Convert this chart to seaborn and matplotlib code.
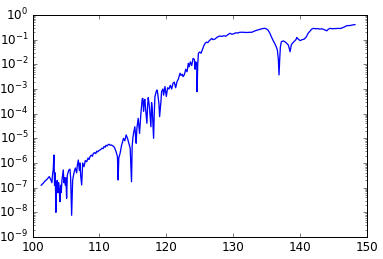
import matplotlib
matplotlib.use("Agg")
import matplotlib.pyplot as plt
import seaborn as sns
import numpy as np
import pandas as pd

x_vals = [101.3, 101.6, 101.9, 102.1, 102.3, 102.5, 102.7, 102.9, 103.0, 103.1, 103.2, 103.3, 103.4, 103.5,
          103.6, 103.7, 103.8, 103.9, 104.0, 104.1, 104.2, 104.3, 104.4, 104.5, 104.6, 104.7, 104.8, 104.9,
          105.0, 105.1, 105.2, 105.4, 105.6, 105.7, 105.85, 106.0, 106.2, 106.4, 106.6, 106.7, 106.85, 107.0,
          107.1, 107.2, 107.35, 107.5, 107.7, 107.9, 108.1, 108.3, 108.45, 108.6, 108.8, 108.95, 109.1, 109.3,
          109.45, 109.6, 109.75, 109.9, 110.1, 110.25, 110.4, 110.55, 110.7, 110.85, 111.0, 111.15, 111.3,
          111.45, 111.6, 111.8, 111.95, 112.1, 112.3, 112.5, 112.7, 112.8, 112.9, 113.1,
          113.3, 113.5, 113.6, 113.8, 114.0, 114.2, 114.4, 114.6, 114.8, 114.9, 115.0, 115.1, 115.3, 115.4,
          115.5, 115.6, 115.8, 115.9, 116.0, 116.2, 116.4, 116.5, 116.6, 116.7, 116.8, 116.9, 117.1, 117.2,
          117.3, 117.4, 117.5, 117.7, 117.8, 117.9, 118.1, 118.2, 118.3, 118.5, 118.6, 118.7, 118.9, 119.0,
          119.2, 119.3, 119.5, 119.6, 119.8, 120.0, 120.2, 120.4, 120.6, 120.8, 121.0, 121.2, 121.4, 121.6,
          121.8, 122.05, 122.2, 122.4, 122.5, 122.7, 122.9, 123.1, 123.3, 123.4, 123.6, 123.8, 124.0, 124.2,
          124.3, 124.4, 124.55, 124.6, 124.7, 124.8, 125.0, 125.2, 125.4, 125.6, 125.8, 126.0, 126.2, 126.4,
          126.6, 126.8, 127.0, 127.3, 127.6, 128.0, 128.3, 128.6, 128.9, 129.2, 129.5, 129.8, 130.1, 130.4,
          130.7, 131.0, 131.5, 132.0, 132.5, 132.8, 133.1, 133.5, 134.0, 134.4, 134.75, 135.0, 135.2, 135.5,
          135.7, 136.0, 136.2, 136.45, 136.6, 136.75, 136.85, 136.95, 137.05, 137.2, 137.5, 137.7, 138.0, 138.25,
          138.5, 138.7, 139.0, 139.2, 139.4, 139.5, 139.7, 140.0, 140.3, 140.6, 140.9, 141.2, 141.5, 141.7,
          142.0, 142.3, 142.6, 142.9, 143.2, 143.5, 143.8, 144.0, 144.2, 144.5, 144.8, 145.1, 145.4, 145.7,
          146.0, 146.3, 146.5, 146.8, 147.0, 147.3, 147.6, 147.9, 148.2]

log10_y = [-6.90, -6.82, -6.72, -6.68, -6.62, -6.55, -6.65, -6.80, -6.45, -6.28, -5.68, -6.90, -6.40, -8.00,
           -6.90, -6.70, -7.20, -6.80, -7.10, -7.57, -6.90, -7.20, -6.70, -6.50, -6.28, -6.80, -6.60, -6.90,
           -6.60, -7.43, -6.50, -6.30, -6.25, -6.60, -8.12, -6.70, -6.40, -6.20, -6.40, -6.10, -5.88, -6.30,
           -6.00, -6.50, -6.89, -6.00, -6.15, -5.90, -5.95, -5.80, -5.86, -5.74, -5.68, -5.73, -5.61, -5.58,
           -5.62, -5.52, -5.55, -5.50, -5.47, -5.44, -5.40, -5.42, -5.33, -5.36, -5.28, -5.31, -5.26,
           -5.24, -5.28, -5.27, -5.30, -5.32, -5.40, -5.55, -5.74, -6.69, -5.80, -5.60,
           -5.30, -5.10, -5.00, -5.10, -4.86, -5.00, -5.20, -5.40, -6.76, -5.30, -5.00, -4.80, -4.53, -4.90,
           -5.20, -4.60, -4.19, -4.50, -4.80, -4.00, -3.40, -3.38, -3.90, -3.50, -3.42, -3.80, -4.39, -3.70,
           -3.35, -3.55, -3.80, -4.53, -3.55, -3.80, -5.00, -4.00, -3.31, -3.10, -3.04, -3.15, -3.60, -4.12,
           -3.50, -3.10, -3.00, -3.25, -2.90, -3.30, -2.95, -3.00, -2.85, -3.00, -2.77, -2.72, -2.95, -2.70,
           -2.60, -2.36, -2.45, -2.40, -2.50, -2.42, -2.20, -2.30, -1.96, -2.10, -1.90, -2.05, -1.76, -1.80,
           -2.20, -1.90, -1.98, -3.11, -2.00, -1.55, -1.50, -1.55, -1.40, -1.25, -1.15, -1.10, -1.12, -1.05,
           -1.00, -0.95, -1.00, -0.97, -0.90, -0.85, -0.87, -0.84, -0.86, -0.80, -0.74, -0.78, -0.76, -0.72,
           -0.73, -0.70, -0.70, -0.71, -0.70, -0.70, -0.66, -0.62, -0.58, -0.55, -0.54, -0.57, -0.61, -0.75,
           -0.88, -1.05, -1.15, -1.30, -1.42, -1.80, -2.43, -1.80, -1.30, -1.08, -1.05, -1.08, -1.15, -1.22,
           -1.49, -1.20, -1.10, -1.05, -0.99, -0.91, -0.97, -1.04, -1.00, -0.98, -0.90, -0.74, -0.65, -0.58,
           -0.54, -0.56, -0.55, -0.57, -0.56, -0.58, -0.62, -0.64, -0.58, -0.54, -0.56, -0.55, -0.55, -0.54,
           -0.55, -0.52, -0.50, -0.46, -0.43, -0.43, -0.42, -0.40, -0.39]

x_ticks = [100, 110, 120, 130, 140, 150]

df = pd.DataFrame({"x": x_vals, "y": np.power(10.0, log10_y)})

plt.style.use("classic")
plt.rcParams["font.family"] = ["DejaVu Sans"]
plt.rcParams["font.size"] = 12

fig = plt.figure(figsize=(383 / 72, 259 / 72), dpi=72, facecolor="white")
ax = fig.add_axes([32.5 / 383, 22 / 259, (367 - 32.5) / 383, (237 - 15) / 259])
sns.lineplot(data=df, x="x", y="y", ax=ax, color="#0000ff", linewidth=1.3,
             estimator=None, sort=False)
ax.set_yscale("log")
ax.set_xlim(100, 150)
ax.set_ylim(1e-9, 1e0)
ax.set_xticks(x_ticks)
ax.set_xlabel("")
ax.set_ylabel("")
ax.tick_params(which="both", direction="in", top=True, right=True)
fig.savefig("out.png", dpi=72, facecolor="white")
